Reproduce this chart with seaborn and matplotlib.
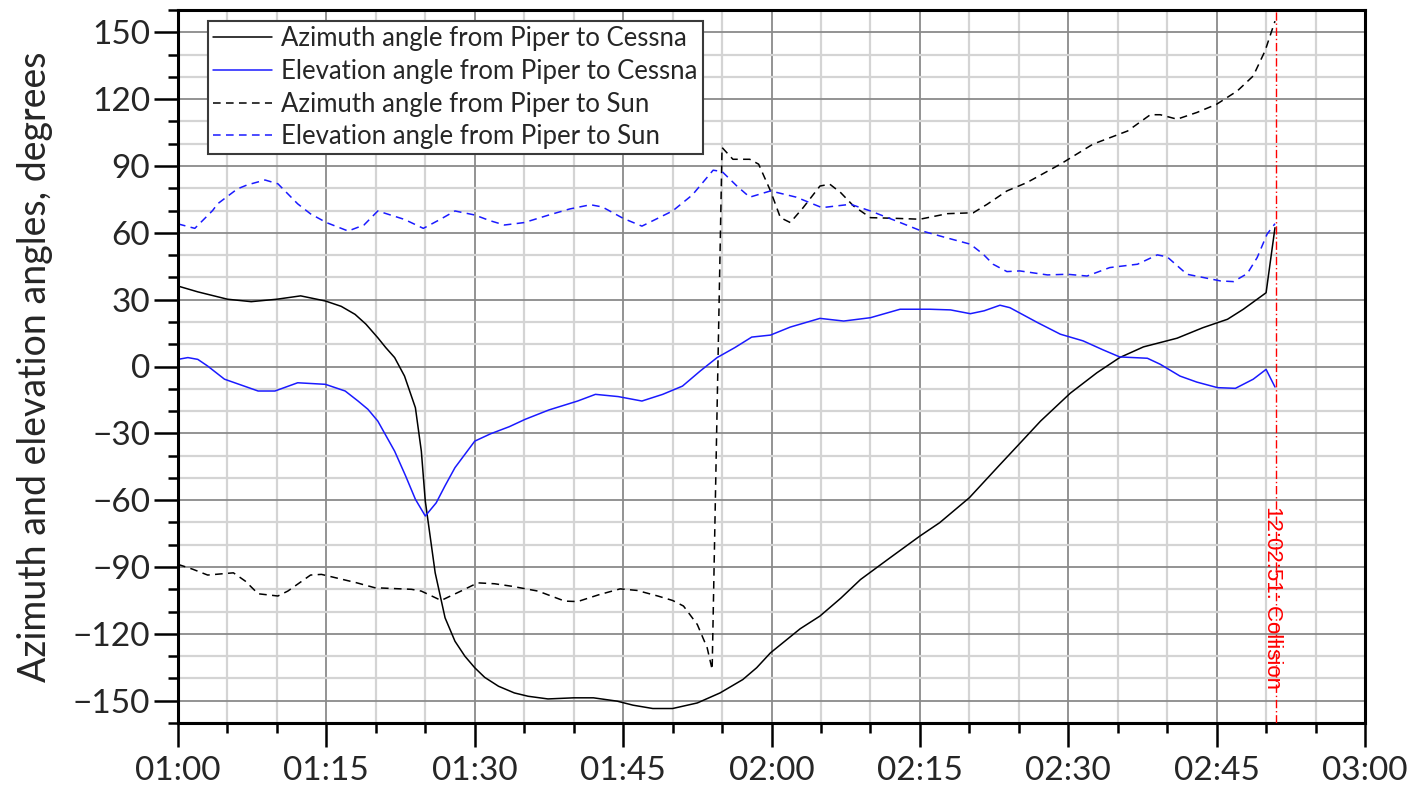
import numpy as np
import pandas as pd
import seaborn as sns
import matplotlib
matplotlib.use("Agg")
import matplotlib.pyplot as plt
from matplotlib.ticker import MultipleLocator, FixedLocator

# ---------------- data (time in seconds after 12:00:00) ----------------
t_az_cessna = [60, 62, 65, 67.4, 70, 72.4, 74.9, 76.5, 77.9, 79, 80.2, 81, 81.9, 82.9,
               84, 84.6, 85, 86, 87, 88, 89, 90, 91, 92.4, 94, 95.4, 97.4, 100, 102,
               104.4, 106, 108, 110, 112.5, 114.8, 117.1, 118.5, 119.9, 122.9, 124.9,
               127, 129, 132, 135, 137, 140, 143, 145, 147.2, 150.2, 152.9, 155.2,
               157.6, 161, 163.6, 166.1, 167.7, 170, 170.9]
az_cessna = [36.1, 33.5, 30.2, 29.1, 30.2, 31.7, 29.4, 27, 23.4, 19, 12.9, 8.5, 4, -4.3,
             -18.5, -38, -60.4, -92.6, -112.8, -123.3, -130, -135.2, -139.5, -143.5,
             -146.5, -148, -149.2, -148.7, -148.7, -150.2, -152, -153.5, -153.5, -151,
             -146.5, -140.5, -135.2, -128.5, -117.7, -112, -104, -95.6, -85.8, -76.1,
             -70.1, -58.9, -44.5, -35, -24.5, -12, -2.8, 4, 8.8, 12.7, 17.4, 21.2, 25.7,
             33.1, 62.3]

t_el_cessna = [60, 61, 62, 63, 64.7, 66.5, 68.1, 69.8, 72.1, 74.9, 76.9, 78.2, 79.2, 80.2,
               81.9, 83, 84, 85, 86.1, 87, 88, 90, 91.6, 93.5, 95.1, 97.5, 100.4, 102.2,
               104.5, 106.9, 109, 111, 112.8, 114.5, 116.3, 118, 119.9, 121.9, 124.9,
               127.3, 130, 133, 136, 138.1, 140.1, 141.5, 143.1, 144.1, 146.9, 149.2,
               151.5, 153.5, 155.2, 158, 159.3, 161.3, 163, 165.1, 166.9, 168.7, 170, 170.9]
el_cessna = [3.2, 4, 3.2, 0.2, -5.7, -8.5, -11, -11, -7.3, -8, -11, -15.5, -19.2, -24.5,
             -38, -49, -59.6, -67.1, -61.2, -53.5, -45.4, -33.5, -30.2, -27, -23.7, -19.5,
             -15.5, -12.5, -13.5, -15.5, -12.5, -8.8, -2, 4, 8.5, 13.2, 14.1, 17.7, 21.6,
             20.4, 21.9, 25.7, 25.7, 25.4, 23.7, 25, 27.5, 26.4, 19.7, 14.5, 11.5, 7.5,
             4.3, 3.7, 1, -4.3, -7, -9.5, -9.8, -5.7, -1.3, -9.2]

t_az_sun = [60, 61.5, 63, 65.6, 66.8, 68.1, 70.1, 71.1, 73.4, 74.5, 76.2, 78, 79.9, 83.6,
            84.6, 86.6, 88.6, 90.3, 92, 93.7, 96.4, 99.1, 100.4, 102.5, 104.7, 106.4,
            108.5, 110, 111.1, 112.5, 113.5, 114, 115, 116.1, 117.8, 118.7, 119.9, 120.9,
            121.9, 123.2, 124.9, 125.9, 127, 128.3, 130, 132.5, 135, 137.8, 140.4, 141.8,
            143.8, 145.8, 149.2, 152.5, 156, 158.3, 159.3, 161, 163, 165, 167.1, 168.7,
            169.9, 170.9]
az_sun = [-88.8, -91, -93.6, -92.6, -96.3, -102, -103, -100.8, -93.6, -93.3, -95.1, -97,
          -99.3, -100, -100.8, -105, -100.8, -97.1, -97.5, -98.6, -100.8, -105.3, -105.5,
          -102.5, -99.8, -100.5, -103, -105, -107.5, -115.8, -126.3, -136, 98.3, 93, 93,
          90.8, 78.8, 66.8, 64.6, 71.3, 81, 81.8, 78, 72, 66.8, 66.5, 66.1, 68.6, 69,
          72.8, 78.8, 82.5, 90.8, 99.8, 105.7, 113, 113, 111, 114, 117.7, 123.7, 130.4,
          141.7, 155]

t_el_sun = [60, 61.7, 63.5, 64, 66, 67, 68.8, 70.1, 72.1, 73.4, 75, 77.2, 78.8, 80.2, 82.9,
            84.8, 86.5, 88, 90, 91.5, 93, 95, 97.5, 99.6, 101.7, 102.9, 105, 106.9, 110,
            112, 114.1, 115, 116.5, 117.8, 119.9, 122.5, 125.1, 128, 130, 132.5, 135,
            137.5, 140.1, 141.4, 142.4, 143.8, 145.1, 147.9, 149.9, 151.9, 154.2, 157,
            159, 160, 162, 165.4, 166.7, 168.1, 169.1, 170.1, 170.9]
el_sun = [64, 62, 70, 73, 79.7, 81.5, 83.7, 82, 73, 68.5, 64.6, 60.8, 63.5, 69.8, 66, 62,
          66, 69.8, 68, 65.5, 63.5, 64.6, 68, 70.7, 72.6, 71.6, 66.5, 63, 69.8, 77, 88.1,
          87.5, 81, 76, 78.8, 76, 71.3, 72.8, 69.8, 65.5, 61.1, 58, 54.9, 50.4, 45.9, 42.6,
          42.9, 41.1, 41.4, 40.6, 44.4, 45.9, 50.1, 49.2, 41.4, 38.4, 38.1, 41.7, 48.9,
          59.4, 64.1]

collision_t = 171
collision_label = "12:02:51: Collision"

x_ticks = [60, 75, 90, 105, 120, 135, 150, 165, 180]
x_tick_labels = ["01:00", "01:15", "01:30", "01:45", "02:00", "02:15", "02:30", "02:45", "03:00"]
y_ticks = [-150, -120, -90, -60, -30, 0, 30, 60, 90, 120, 150]

labels = ["Azimuth angle from Piper to Cessna",
          "Elevation angle from Piper to Cessna",
          "Azimuth angle from Piper to Sun",
          "Elevation angle from Piper to Sun"]

# ---------------- style ----------------
sns.set_theme(style="white")
plt.rcParams['font.family'] = ['Lato', 'DejaVu Sans']
plt.rcParams['axes.unicode_minus'] = True

fig = plt.figure(figsize=(14.26, 7.95), dpi=100)
ax = fig.add_axes([178/1426, 1 - 723/795, (1365 - 178)/1426, (723 - 10)/795])

dash = (0, (5, 3.5))
sns.lineplot(x=t_az_cessna, y=az_cessna, ax=ax, color="black", lw=1.1,
             sort=False, estimator=None, label=labels[0])
sns.lineplot(x=t_el_cessna, y=el_cessna, ax=ax, color="#1a1aff", lw=1.1,
             sort=False, estimator=None, label=labels[1])
sns.lineplot(x=t_az_sun, y=az_sun, ax=ax, color="black", lw=1.1, linestyle=dash,
             sort=False, estimator=None, label=labels[2])
sns.lineplot(x=t_el_sun, y=el_sun, ax=ax, color="#1a1aff", lw=1.1, linestyle=dash,
             sort=False, estimator=None, label=labels[3])

ax.axvline(collision_t, color="red", lw=1.0, linestyle=(0, (6, 2, 1, 2)), zorder=3)
ax.text(collision_t - 0.35, -62.5, collision_label, rotation=270, color="red",
        ha="center", va="top", fontsize=16, family="Liberation Sans", zorder=4)

ax.set_xlim(60, 180)
ax.set_ylim(-160, 160)
ax.xaxis.set_major_locator(FixedLocator(x_ticks))
ax.set_xticklabels(x_tick_labels)
ax.xaxis.set_minor_locator(MultipleLocator(5))
ax.yaxis.set_major_locator(FixedLocator(y_ticks))
ax.yaxis.set_minor_locator(MultipleLocator(10))

ax.set_axisbelow(True)
ax.grid(which="minor", color="#d4d4d4", lw=1.6)
ax.grid(which="major", color="#8a8a8a", lw=1.3)

for s in ax.spines.values():
    s.set_visible(True)
    s.set_color("black")
    s.set_linewidth(2.2)

ax.tick_params(which="major", direction="out", length=17, width=1.8, color="black",
               labelsize=24, pad=3, left=True, bottom=True, top=False, right=False)
ax.tick_params(which="minor", direction="out", length=7.5, width=1.8, color="black",
               left=True, bottom=True, top=False, right=False)
ax.tick_params(axis="x", pad=7)

ax.set_xlabel("")
ax.set_ylabel("Azimuth and elevation angles, degrees", fontsize=27, labelpad=14)

leg = ax.legend(loc="upper left", bbox_to_anchor=(0.0253, 0.9846), borderaxespad=0,
                fontsize=18.5, frameon=True, fancybox=False, framealpha=1,
                edgecolor="#3a3a3a", handlelength=2.3, handletextpad=0.35,
                labelspacing=0.3, borderpad=0.2)
leg.get_frame().set_linewidth(1.5)

fig.savefig("out.png", dpi=100)
